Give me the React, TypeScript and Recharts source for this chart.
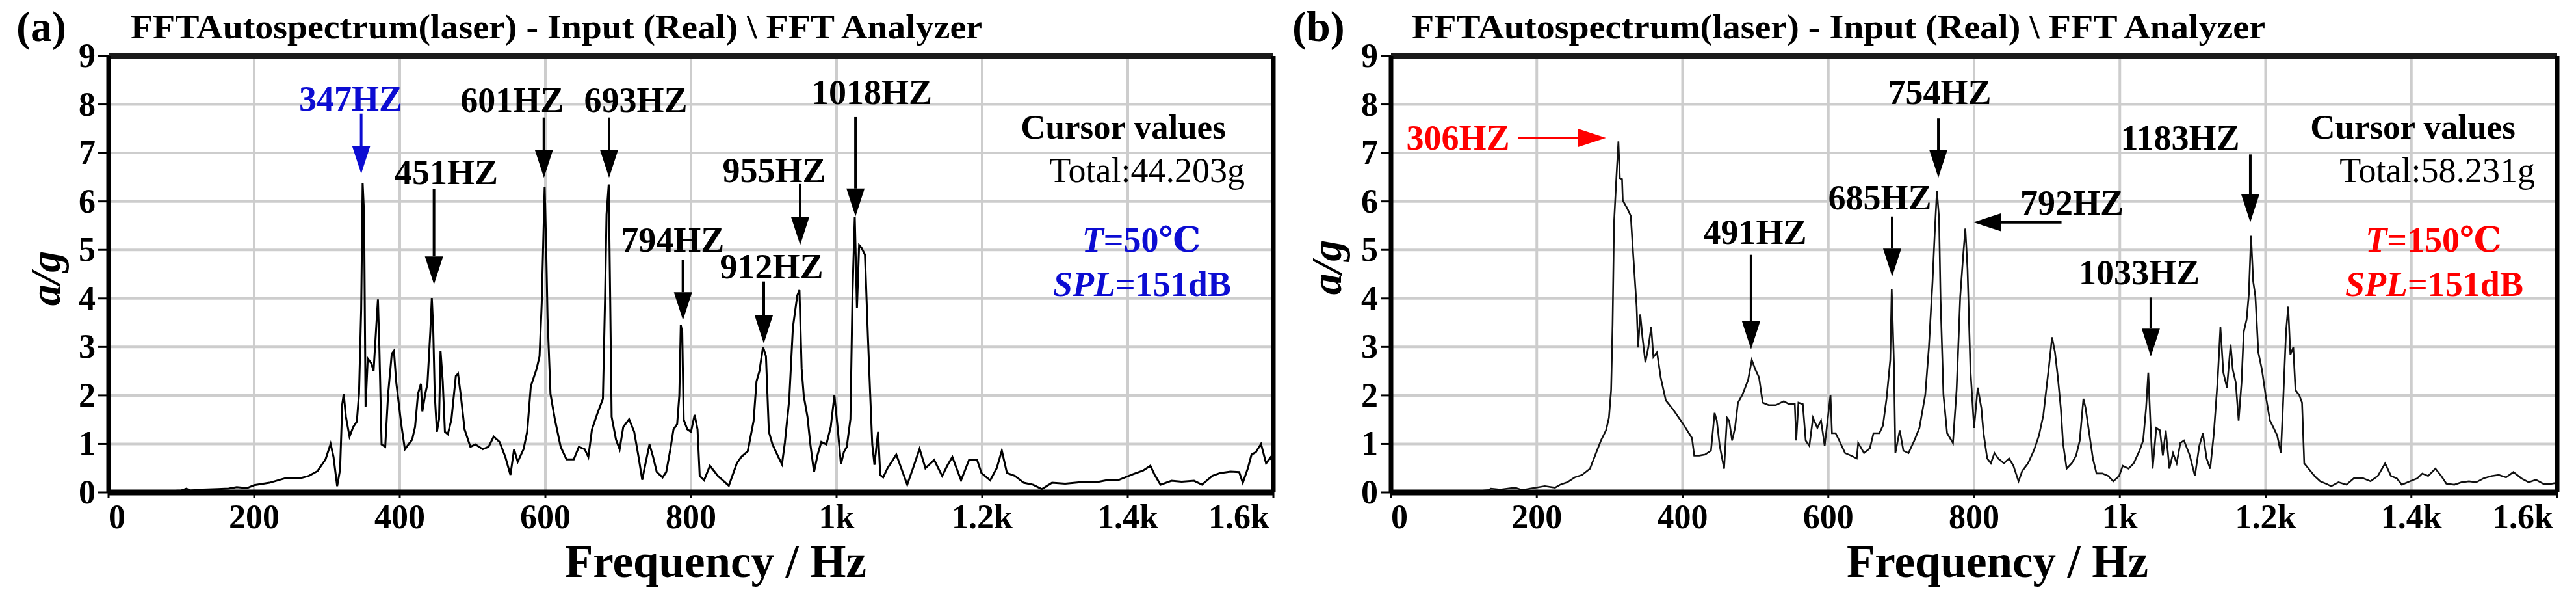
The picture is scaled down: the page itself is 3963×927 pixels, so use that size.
import React from 'react';
import { LineChart, Line, XAxis, YAxis, CartesianGrid, ReferenceLine } from 'recharts';

const FONT = '"Liberation Serif", "Times New Roman", "DejaVu Serif", "Noto Sans CJK SC", serif';
const BLUE = '#0c0cd2';
const RED = '#ff0000';

// ---------- data ----------
const freqA = [
  0, 45, 58, 70, 100, 107, 112, 130, 150, 165,
  176, 190, 200, 221, 242, 262, 275, 287, 298, 305,
  309, 314, 318, 321, 323, 326, 331, 336, 341, 344,
  347, 349, 351, 353, 356, 361, 364, 368, 370, 372,
  375, 380, 384, 389, 392, 395, 402, 407, 412, 417,
  421, 425, 429, 431, 435, 438, 442, 444, 446, 448,
  451, 454, 456, 459, 462, 466, 471, 477, 480, 484,
  489, 497, 504, 514, 522, 529, 537, 545, 552, 557,
  562, 570, 575, 580, 588, 592, 595, 597, 599, 601,
  603, 607, 613, 621, 629, 639, 646, 654, 659, 664,
  671, 679, 682, 684, 687, 689, 691, 697, 702, 707,
  715, 722, 728, 733, 738, 743, 748, 753, 761, 766,
  771, 776, 781, 784, 786, 788, 790, 795, 800, 805,
  809, 812, 818, 826, 837, 852, 863, 869, 878, 886,
  890, 894, 899, 903, 907, 912, 920, 925, 929, 935,
  940, 946, 949, 952, 955, 960, 964, 969, 974, 979,
  986, 992, 997, 1002, 1006, 1010, 1014, 1019, 1022, 1025,
  1028, 1031, 1034, 1039, 1043, 1046, 1049, 1052, 1057, 1060,
  1064, 1070, 1082, 1090, 1097, 1105, 1114, 1122, 1134, 1145,
  1152, 1159, 1171, 1182, 1193, 1199, 1211, 1220, 1227, 1234,
  1245, 1257, 1270, 1282, 1296, 1314, 1335, 1357, 1371, 1388,
  1408, 1421, 1431, 1437, 1445, 1460, 1474, 1491, 1502, 1516,
  1527, 1541, 1553, 1558, 1565, 1570, 1576, 1583, 1590, 1596,
  1600,
];
const ampA = [
  0, 0.01, 0.03, 0.02, 0.04, 0.08, 0.04, 0.06, 0.07, 0.08,
  0.11, 0.09, 0.15, 0.2, 0.29, 0.29, 0.34, 0.44, 0.68, 1.0,
  0.73, 0.13, 0.47, 1.82, 2.03, 1.56, 1.15, 1.35, 1.46, 2.03,
  3.78, 6.38, 5.73, 1.77, 2.76, 2.66, 2.5, 3.49, 3.98, 2.97,
  0.99, 0.94, 2.03, 2.86, 2.92, 2.29, 1.41, 0.89, 0.99, 1.09,
  1.35, 2.03, 2.24, 1.67, 2.03, 2.24, 3.33, 4.01, 3.33, 2.03,
  1.25, 1.51, 2.92, 2.29, 1.25, 1.2, 1.51, 2.4, 2.45, 1.98,
  1.3, 0.94, 0.99, 0.89, 0.94, 1.15, 1.04, 0.73, 0.36, 0.89,
  0.63, 0.89, 1.25, 2.19, 2.55, 2.81, 3.91, 5.1, 6.3, 5.1,
  3.59, 2.03, 1.51, 0.94, 0.68, 0.68, 0.94, 0.89, 0.73, 1.3,
  1.61, 1.93, 4.01, 5.73, 6.35, 4.01, 1.56, 1.09, 0.89, 1.35,
  1.51, 1.25, 0.73, 0.26, 0.63, 0.99, 0.73, 0.42, 0.31, 0.42,
  0.83, 1.3, 1.41, 2.0, 3.45, 3.3, 1.5, 1.3, 1.25, 1.6,
  1.3, 0.34, 0.25, 0.55, 0.34, 0.14, 0.6, 0.73, 0.85, 1.47,
  2.29, 2.5, 3.0, 2.81, 1.25, 0.99, 0.73, 0.58, 1.03, 1.92,
  3.4, 4.06, 4.17, 2.55, 1.98, 1.56, 0.99, 0.42, 0.78, 1.04,
  0.99, 1.35, 2.0, 1.25, 0.58, 0.83, 0.94, 1.51, 4.17, 5.68,
  3.8, 5.1, 5.05, 4.9, 3.23, 2.08, 0.99, 0.57, 1.25, 0.36,
  0.31, 0.5, 0.78, 0.45, 0.16, 0.5, 0.9, 0.5, 0.67, 0.34,
  0.55, 0.73, 0.25, 0.67, 0.67, 0.4, 0.25, 0.5, 0.86, 0.4,
  0.34, 0.2, 0.16, 0.07, 0.2, 0.18, 0.21, 0.21, 0.25, 0.26,
  0.38, 0.45, 0.55, 0.36, 0.16, 0.24, 0.22, 0.24, 0.16, 0.34,
  0.4, 0.43, 0.42, 0.2, 0.5, 0.78, 0.83, 1.0, 0.6, 0.72,
  0.6,
];

const freqB = [
  0, 100, 134, 137, 150, 170, 180, 191, 211, 225,
  232, 242, 252, 262, 273, 280, 288, 295, 299, 302,
  304, 306, 309, 312, 314, 317, 318, 324, 329, 332,
  337, 339, 342, 345, 349, 353, 357, 360, 365, 370,
  377, 388, 400, 413, 416, 423, 431, 439, 444, 447,
  451, 457, 461, 464, 468, 472, 476, 482, 490, 495,
  500, 505, 510, 518, 528, 539, 546, 554, 556, 559,
  565, 569, 574, 579, 585, 590, 595, 603, 605, 610,
  615, 623, 631, 639, 641, 649, 657, 662, 670, 675,
  680, 685, 687, 690, 692, 698, 703, 710, 718, 725,
  733, 738, 743, 746, 749, 752, 754, 758, 763, 771,
  776, 781, 785, 788, 791, 795, 800, 805, 810, 813,
  818, 823, 828, 833, 841, 848, 854, 861, 866, 874,
  882, 889, 895, 899, 903, 907, 911, 915, 919, 922,
  927, 934, 940, 945, 950, 953, 958, 963, 968, 976,
  984, 991, 999, 1004, 1012, 1019, 1027, 1032, 1036, 1039,
  1042, 1045, 1050, 1055, 1059, 1063, 1068, 1073, 1078, 1083,
  1088, 1096, 1103, 1109, 1114, 1119, 1124, 1129, 1134, 1138,
  1142, 1147, 1152, 1155, 1159, 1163, 1167, 1170, 1174, 1177,
  1180, 1183, 1186, 1190, 1195, 1200, 1206, 1211, 1216, 1221,
  1224, 1228, 1231, 1234, 1238, 1241, 1246, 1250, 1253, 1259,
  1267, 1275, 1283, 1290, 1300, 1311, 1321, 1334, 1344, 1354,
  1364, 1372, 1380, 1387, 1398, 1408, 1415, 1423, 1433, 1441,
  1448, 1459, 1469, 1479, 1489, 1499, 1510, 1520, 1530, 1540,
  1551, 1561, 1571, 1581, 1592, 1600,
];
const ampB = [
  0, 0, 0.05, 0.08, 0.06, 0.1, 0.05, 0.08, 0.13, 0.1,
  0.16, 0.21, 0.31, 0.36, 0.49, 0.76, 1.07, 1.28, 1.54, 2.11,
  3.46, 5.55, 6.43, 7.24, 6.48, 6.46, 6.02, 5.86, 5.7, 4.97,
  3.83, 2.99, 3.67, 3.2, 2.68, 2.99, 3.41, 2.79, 2.89, 2.37,
  1.9, 1.69, 1.43, 1.12, 0.76, 0.76, 0.78, 0.86, 1.64, 1.48,
  0.96, 0.49, 1.54, 1.48, 1.07, 1.33, 1.85, 2.01, 2.32, 2.73,
  2.53, 2.37, 1.85, 1.8, 1.8, 1.88, 1.82, 1.82, 1.07, 1.85,
  1.82, 1.07, 0.96, 1.54, 1.33, 1.48, 0.96, 2.01, 1.22, 1.22,
  1.07, 0.81, 0.76, 0.7, 1.02, 0.81, 0.91, 1.22, 1.22, 1.38,
  1.95, 2.73, 4.19, 2.68, 0.81, 1.28, 0.86, 0.81, 1.07, 1.33,
  2.01, 2.99, 4.35, 5.34, 6.22, 5.65, 3.98, 2.01, 1.22, 1.02,
  2.11, 4.04, 4.87, 5.44, 4.61, 2.53, 1.33, 2.16, 1.74, 1.22,
  0.7, 0.6, 0.81, 0.7, 0.6, 0.7, 0.55, 0.23, 0.44, 0.6,
  0.86, 1.17, 1.59, 2.11, 2.63, 3.2, 2.89, 2.37, 1.74, 1.02,
  0.49, 0.6, 0.76, 1.07, 1.93, 1.74, 1.22, 0.7, 0.39, 0.39,
  0.34, 0.23, 0.34, 0.55, 0.49, 0.6, 0.86, 1.07, 1.74, 2.47,
  1.43, 0.49, 1.33, 1.28, 0.76, 1.28, 0.49, 0.81, 0.6, 1.02,
  1.07, 0.76, 0.34, 0.96, 1.22, 0.7, 0.49, 1.22, 2.27, 3.41,
  2.47, 2.16, 3.05, 2.53, 2.27, 1.48, 2.27, 3.31, 3.57, 4.09,
  5.29, 4.35, 4.04, 2.89, 2.53, 2.01, 1.48, 1.33, 1.17, 0.81,
  1.85, 3.31, 3.83, 2.84, 2.99, 2.11, 2.01, 1.85, 0.6, 0.49,
  0.34, 0.23, 0.18, 0.13, 0.21, 0.16, 0.29, 0.29, 0.23, 0.34,
  0.6, 0.34, 0.29, 0.16, 0.23, 0.29, 0.39, 0.34, 0.49, 0.34,
  0.18, 0.16, 0.21, 0.23, 0.21, 0.29, 0.34, 0.36, 0.31, 0.42,
  0.29, 0.21, 0.26, 0.18, 0.18, 0.2,
];

const xTicks = [0, 200, 400, 600, 800, 1000, 1200, 1400, 1600];
const yTicks = [0, 1, 2, 3, 4, 5, 6, 7, 8, 9];

type Ann = { label: string; f1: number; v1: number; f2: number; v2: number; dx: number; dy: number; color: string };

const annA: Ann[] = [
  { label: '347HZ', f1: 347, v1: 7.81, f2: 347, v2: 6.57, dx: -16, dy: -5, color: BLUE },
  { label: '451HZ', f1: 447, v1: 6.26, f2: 447, v2: 4.29, dx: 19, dy: -7, color: '#000' },
  { label: '601HZ', f1: 598, v1: 7.73, f2: 598, v2: 6.49, dx: -49, dy: -9, color: '#000' },
  { label: '693HZ', f1: 687.5, v1: 7.73, f2: 687.5, v2: 6.49, dx: 41, dy: -9, color: '#000' },
  { label: '794HZ', f1: 789, v1: 4.79, f2: 789, v2: 3.55, dx: -16, dy: -13, color: '#000' },
  { label: '912HZ', f1: 900, v1: 4.35, f2: 900, v2: 3.07, dx: 12, dy: -5, color: '#000' },
  { label: '955HZ', f1: 950, v1: 6.36, f2: 950, v2: 5.1, dx: -40, dy: -3, color: '#000' },
  { label: '1018HZ', f1: 1026, v1: 7.74, f2: 1026, v2: 5.69, dx: 25, dy: -20, color: '#000' },
];

const annB: Ann[] = [
  { label: '306HZ', f1: 174, v1: 7.31, f2: 295, v2: 7.31, dx: -92, dy: 18, color: RED },
  { label: '491HZ', f1: 494, v1: 4.9, f2: 494, v2: 2.95, dx: 6, dy: -17, color: '#000' },
  { label: '685HZ', f1: 687.6, v1: 5.69, f2: 687.6, v2: 4.45, dx: -19, dy: -11, color: '#000' },
  { label: '754HZ', f1: 751, v1: 7.71, f2: 751, v2: 6.49, dx: 2, dy: -22, color: '#000' },
  { label: '792HZ', f1: 920, v1: 5.57, f2: 799, v2: 5.57, dx: 16, dy: -12, color: '#000' },
  { label: '1033HZ', f1: 1042.5, v1: 4.02, f2: 1042.5, v2: 2.8, dx: -18, dy: -20, color: '#000' },
  { label: '1183HZ', f1: 1179, v1: 6.97, f2: 1179, v2: 5.57, dx: -108, dy: -7, color: '#000' },
];

const dataA = freqA.map((f, i) => ({ f, a: ampA[i] }));
const dataB = freqB.map((f, i) => ({ f, a: ampB[i] }));

// ---------- tick renderers ----------
const XTick = (props: any) => {
  const { x, y, payload } = props;
  const v = payload.value;
  const label = v >= 1000 ? `${v / 1000}k` : `${v}`;
  const anchor = v === 0 ? 'start' : v === 1600 ? 'end' : 'middle';
  const xx = v === 1600 ? x - 6 : x;
  return (
    <text x={xx} y={y + 47} textAnchor={anchor} fontFamily={FONT} fontWeight="bold" fontSize={52} fill="#000">
      {label}
    </text>
  );
};

const YTick = (props: any) => {
  const { x, y, payload } = props;
  return (
    <text x={x} y={y + 17} textAnchor="end" fontFamily={FONT} fontWeight="bold" fontSize={52} fill="#000">
      {payload.value}
    </text>
  );
};

const arrowShape = (ann: Ann) => (p: any) => {
  const { x1, y1, x2, y2 } = p;
  if (x1 == null || y1 == null || x2 == null || y2 == null) return <g />;
  const vx = x2 - x1;
  const vy = y2 - y1;
  const len = Math.hypot(vx, vy) || 1;
  const ux = vx / len;
  const uy = vy / len;
  const L = 43;
  const W = 14;
  const bx = x2 - ux * L;
  const by = y2 - uy * L;
  const px = -uy;
  const py = ux;
  return (
    <g>
      <line x1={x1} y1={y1} x2={bx} y2={by} stroke={ann.color} strokeWidth={4} />
      <polygon
        points={`${x2},${y2} ${bx + px * W},${by + py * W} ${bx - px * W},${by - py * W}`}
        fill={ann.color}
      />
      <text
        x={x1 + ann.dx}
        y={y1 + ann.dy}
        textAnchor="middle"
        fontFamily={FONT}
        fontWeight="bold"
        fontSize={54}
        fill={ann.color}
      >
        {ann.label}
      </text>
    </g>
  );
};

type PanelProps = {
  data: { f: number; a: number }[];
  anns: Ann[];
  width: number;
  left: number;
  right: number;
  lineWidth: number;
  lineColor: string;
};

// Axis bands: the left/bottom axes own real sizes, so margins are reduced by them.
const Y_W = 100;
const X_H = 100;
const TOP_H = 10;
const RIGHT_W = 10;

const Panel = ({ data, anns, width, left, right, lineWidth, lineColor }: PanelProps) => (
  <LineChart
    width={width}
    height={927}
    data={data}
    margin={{ top: 86 - TOP_H, right: right - RIGHT_W, bottom: 170 - X_H, left: left - Y_W }}
  >
    <CartesianGrid stroke="#cdcdcd" strokeWidth={4} />
    <XAxis
      dataKey="f"
      type="number"
      domain={[0, 1600]}
      ticks={xTicks}
      interval={0}
      height={X_H}
      tickSize={8}
      tickMargin={0}
      tickLine={{ stroke: '#000', strokeWidth: 3 }}
      axisLine={{ stroke: '#000', strokeWidth: 9 }}
      tick={XTick}
      allowDataOverflow
    />
    <XAxis
      xAxisId="top"
      orientation="top"
      type="number"
      domain={[0, 1600]}
      height={TOP_H}
      tick={false}
      tickLine={false}
      axisLine={{ stroke: '#1a1a1a', strokeWidth: 9 }}
    />
    <YAxis
      type="number"
      domain={[0, 9]}
      ticks={yTicks}
      interval={0}
      width={Y_W}
      tickSize={16}
      tickMargin={4}
      tickLine={{ stroke: '#000', strokeWidth: 3 }}
      axisLine={{ stroke: '#000', strokeWidth: 7 }}
      tick={YTick}
      allowDataOverflow
    />
    <YAxis
      yAxisId="right"
      orientation="right"
      type="number"
      domain={[0, 9]}
      width={RIGHT_W}
      tick={false}
      tickLine={false}
      axisLine={{ stroke: '#000', strokeWidth: 7 }}
    />
    <Line
      dataKey="a"
      type="linear"
      stroke={lineColor}
      strokeWidth={lineWidth}
      dot={false}
      activeDot={false}
      isAnimationActive={false}
    />
    {anns.map((an) => (
      <ReferenceLine
        key={an.label}
        segment={[
          { x: an.f1, y: an.v1 },
          { x: an.f2, y: an.v2 },
        ]}
        stroke={an.color}
        ifOverflow="visible"
        shape={arrowShape(an)}
      />
    ))}
  </LineChart>
);

const T = (props: any) => <text fontFamily={FONT} fill="#000" {...props} />;

export default function App() {
  return (
    <div style={{ position: 'absolute', left: 0, top: 0, width: 3963, height: 927, background: '#fff', overflow: 'hidden' }}>
      <div style={{ position: 'absolute', left: 0, top: 0 }}>
        <Panel data={dataA} anns={annA} width={1990} left={167} right={31} lineWidth={3} lineColor="#000" />
      </div>
      <div style={{ position: 'absolute', left: 1990, top: 0 }}>
        <Panel data={dataB} anns={annB} width={1973} left={150} right={29} lineWidth={2.6} lineColor="#111" />
      </div>
      <svg width={3963} height={927} style={{ position: 'absolute', left: 0, top: 0, pointerEvents: 'none' }}>
        {/* panel (a) */}
        <T x={25} y={63} fontSize={66} fontWeight="bold">(a)</T>
        <T x={201} y={59} fontSize={53} fontWeight="bold" textLength={1310} lengthAdjust="spacingAndGlyphs">
          FFTAutospectrum(laser) - Input (Real) \ FFT Analyzer
        </T>
        <T x={92} y={428} fontSize={66} fontWeight="bold" fontStyle="italic" textAnchor="middle" transform="rotate(-90 92 428)">
          a/g
        </T>
        <T x={1101} y={887} fontSize={71} fontWeight="bold" textAnchor="middle">Frequency / Hz</T>
        <T x={1728} y={213} fontSize={53} fontWeight="bold" textAnchor="middle">Cursor values</T>
        <T x={1915} y={280} fontSize={54} textAnchor="end">Total:44.203g</T>
        <T x={1756} y={387} fontSize={54} fontWeight="bold" textAnchor="middle" fill={BLUE}>
          <tspan fontStyle="italic">T</tspan>=50℃
        </T>
        <T x={1757} y={455} fontSize={54} fontWeight="bold" textAnchor="middle" fill={BLUE}>
          <tspan fontStyle="italic">SPL</tspan>=151dB
        </T>

        {/* panel (b) */}
        <T x={1988} y={63} fontSize={66} fontWeight="bold">(b)</T>
        <T x={2172} y={59} fontSize={53} fontWeight="bold" textLength={1313} lengthAdjust="spacingAndGlyphs">
          FFTAutospectrum(laser) - Input (Real) \ FFT Analyzer
        </T>
        <T x={2063} y={411} fontSize={66} fontWeight="bold" fontStyle="italic" textAnchor="middle" transform="rotate(-90 2063 411)">
          a/g
        </T>
        <T x={3073} y={887} fontSize={71} fontWeight="bold" textAnchor="middle">Frequency / Hz</T>
        <T x={3712} y={213} fontSize={53} fontWeight="bold" textAnchor="middle">Cursor values</T>
        <T x={3900} y={280} fontSize={54} textAnchor="end">Total:58.231g</T>
        <T x={3744} y={387} fontSize={54} fontWeight="bold" textAnchor="middle" fill={RED}>
          <tspan fontStyle="italic">T</tspan>=150℃
        </T>
        <T x={3745} y={455} fontSize={54} fontWeight="bold" textAnchor="middle" fill={RED}>
          <tspan fontStyle="italic">SPL</tspan>=151dB
        </T>
      </svg>
    </div>
  );
}
